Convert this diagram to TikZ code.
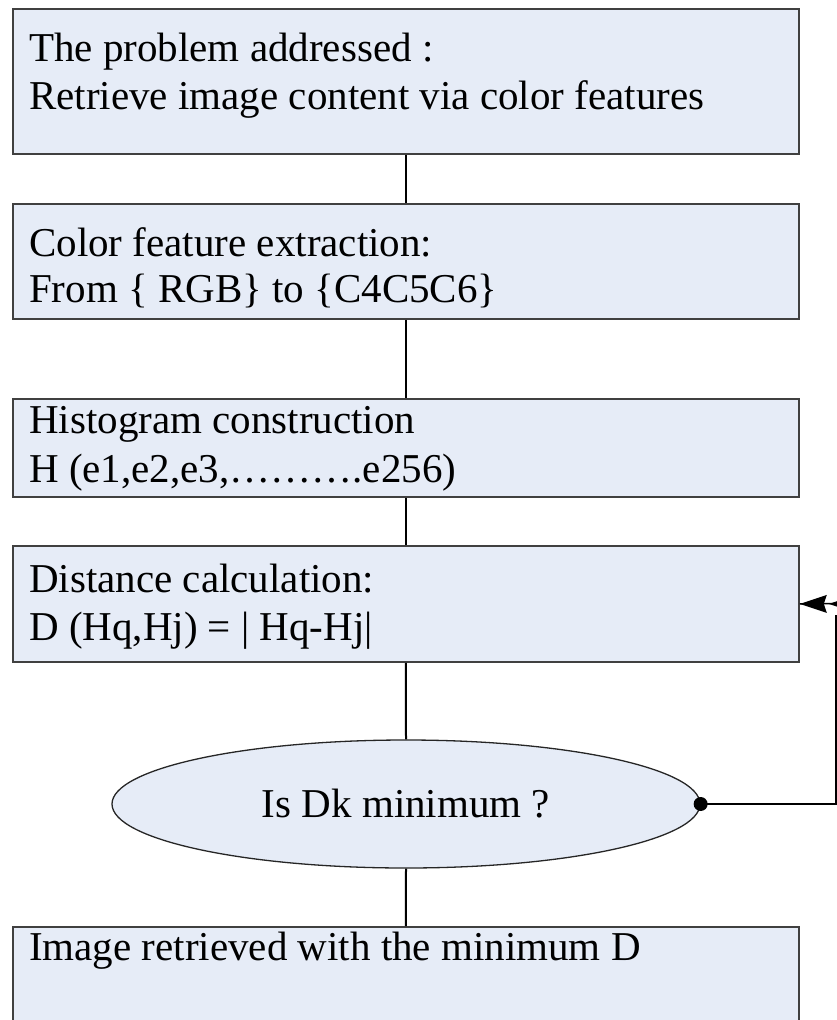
\documentclass[tikz,border=0pt]{standalone}
\usepackage{fontspec}
\setmainfont{Liberation Serif}
\usetikzlibrary{arrows.meta,shapes.geometric}
\definecolor{boxfill}{RGB}{230,236,247}
\begin{document}
\begin{tikzpicture}[x=1pt,y=-1pt,
  flowbox/.style={draw=black!75, line width=1.8pt, fill=boxfill, inner sep=0pt, anchor=north west, minimum width=786pt},
  txt/.style={anchor=base west, inner sep=0pt, font=\fontsize{41}{49}\selectfont},
  conn/.style={draw=black, line width=2pt},
  loopline/.style={draw=black, line width=1.4pt},
  headfill/.style={fill=black}]
\useasboundingbox (0,0) rectangle (837,1020);
\clip (0,0) rectangle (837,1020);
% boxes
\node[flowbox, minimum height=145pt] (b1) at (12,8) {};
\node[flowbox, minimum height=115pt] (b2) at (12,203) {};
\node[flowbox, minimum height=98pt]  (b3) at (12,398) {};
\node[flowbox, minimum height=116pt] (b4) at (12,545) {};
\node[draw=black!85, line width=1.3pt, fill=boxfill, ellipse, inner sep=0pt,
      minimum width=588pt, minimum height=128pt] (ell) at (406,804) {};
\node[flowbox, minimum height=130pt] (b5) at (12,926) {};
% texts
\node[txt] (t1a) at (29,61) {The problem addressed :};
\node[txt] (t1b) at (29,109) {Retrieve image content via color features};
\node[txt] (t2a) at (29,256) {Color feature extraction:};
\node[txt] (t2b) at (29,302) {From \{ RGB\} to \{C4C5C6\}};
\node[txt] (t3a) at (29,433) {Histogram construction};
\node[txt] (t3b) at (29,482) {H (e1,e2,e3,……….e256)};
\node[txt] (t4a) at (29,592) {Distance calculation:};
\node[txt] (t4b) at (29,640) {D (Hq,Hj) = | Hq-Hj|};
\node[inner sep=0pt, font=\fontsize{41}{49}\selectfont] (te) at (406,804) {Is Dk minimum ?};
\node[txt] (t5) at (29,960) {Image retrieved with the minimum D};
% connectors
\draw[conn] (b1.south) -- (b2.north);
\draw[conn] (b2.south) -- (b3.north);
\draw[conn] (b3.south) -- (b4.north);
\draw[conn] (b4.south) -- (ell.north);
\draw[conn] (ell.south) -- (b5.north);
% loop back
\coordinate (cr) at (836,804);
\coordinate (ct) at (836,615);
\coordinate (ca) at (880,603);
\draw[loopline] (ell.east) -- (cr) -- (ct);
\draw[loopline] (ca) -- (b4.east);
\fill[headfill] (b4.east) -- ++(27,-9) -- ++(-3,9) -- ++(3,9) -- cycle;
\fill[headfill] ([xshift=29pt]b4.east) -- ++(27,-9) -- ++(-3,9) -- ++(3,9) -- cycle;
\fill[black] (ell.east) circle (7pt);
\end{tikzpicture}
\end{document}
